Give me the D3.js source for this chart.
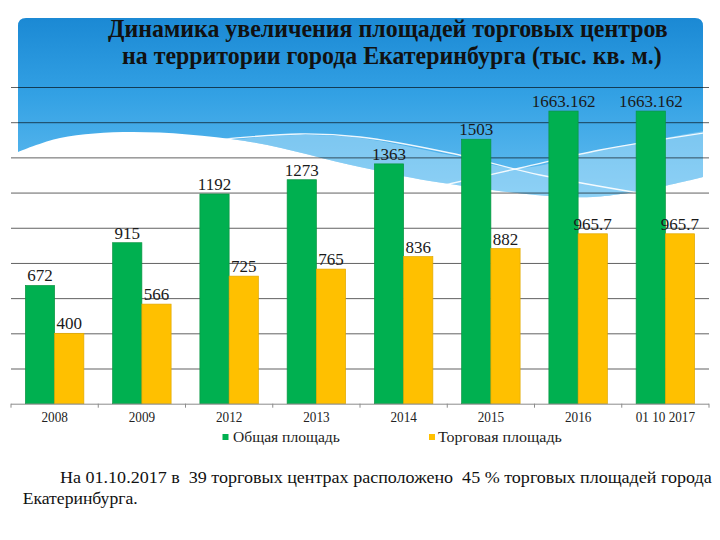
<!DOCTYPE html>
<html><head><meta charset="utf-8">
<script src="https://cdn.jsdelivr.net/npm/d3@7"></script>
<style>body{margin:0;background:#fff} svg{display:block}</style>
</head><body>
<svg id="c" width="720" height="540"></svg>
<script>
const categories = ["2008","2009","2012","2013","2014","2015","2016","01 10 2017"];
const totalArea = [672,915,1192,1273,1363,1503,1663.162,1663.162];
const tradeArea = [400,566,725,765,836,882,965.7,965.7];
const totalLabels = ["672","915","1192","1273","1363","1503","1663.162","1663.162"];
const tradeLabels = ["400","566","725","765","836","882","965.7","965.7"];
const seriesNames = ["Общая площадь","Торговая площадь"];
const seriesColors = ["#00b050","#ffc000"];
const yTicks = d3.range(0, 1801, 200);
const titleLines = ["Динамика увеличения площадей торговых центров","на территории города Екатеринбурга (тыс. кв. м.)"];
const noteLines = ["На 01.10.2017 в  39 торговых центрах расположено  45 % торговых площадей города","Екатеринбурга."];

const SERIF = "'Liberation Serif', 'Times New Roman', 'DejaVu Serif', serif";
const svg = d3.select("#c");
const defs = svg.append("defs");
const grad = defs.append("linearGradient").attr("id","bg").attr("gradientUnits","userSpaceOnUse")
  .attr("x1",0).attr("y1",18).attr("x2",0).attr("y2",190);
grad.append("stop").attr("offset",0).attr("stop-color","#1b89d4");
grad.append("stop").attr("offset",0.45).attr("stop-color","#33a1e4");
grad.append("stop").attr("offset",1).attr("stop-color","#62bdf0");

// decorative banner
const curve = d3.line().curve(d3.curveCatmullRom);
const bottomEdge = [[703,177],[593,197],[443,183],[360,167],[245,141],[133,132],[60,138],[18,152]];
const bannerPath = "M18,26 Q18,18 26,18 L695,18 Q703,18 703,26 L703,177 " + curve(bottomEdge).replace(/^M[^CL]*/, "") + " Z";
defs.append("clipPath").attr("id","bclip").append("path").attr("d", bannerPath);
svg.append("path").attr("d", bannerPath).attr("fill","url(#bg)");
const bandTop = [[225,140],[300,135],[360,138],[450,155],[520,168],[600,150],[710,130]];
const bandG = svg.append("g").attr("clip-path","url(#bclip)");
bandG.append("path").attr("d", curve(bandTop) + " L710,260 L225,260 Z").attr("fill","#bfe6fb").attr("opacity",0.45);
const lineA = [[215,140],[300,134],[360,137],[450,153],[540,175],[645,194]];
const lineB = [[440,186],[520,168],[600,150],[710,132]];
bandG.append("path").attr("d", curve(lineA)).attr("fill","none").attr("stroke","#fff").attr("stroke-width",1.3).attr("opacity",0.9);
bandG.append("path").attr("d", curve(lineB)).attr("fill","none").attr("stroke","#fff").attr("stroke-width",1.3).attr("opacity",0.9);

function fit(sel, x0, yb, w) {
  sel.attr("x",0).attr("y",0);
  const L = sel.node().getComputedTextLength();
  sel.attr("transform", `translate(${x0},${yb}) scale(${w/L},1)`);
}
function txt(parent, s, size, weight) {
  return parent.append("text").text(s).style("font-family", SERIF)
    .style("font-size", size + "px").style("font-weight", weight || "normal").style("white-space","pre");
}

// title
const tPos = [[108,37,560],[122,64,540]];
titleLines.forEach((t,i) => {
  const el = txt(svg, t, 25, "bold").attr("fill","#111");
  fit(el, tPos[i][0], tPos[i][1], tPos[i][2]);
});

// scales
const x = d3.scaleBand().domain(categories).range([11,709]).paddingInner(0.33).paddingOuter(0.165);
const xs = d3.scaleBand().domain([0,1]).range([0, x.bandwidth()]);
const y = d3.scaleLinear().domain([0,1800]).range([403.7,87]);

// gridlines
const grid = svg.append("g").attr("transform","translate(11,0)")
  .call(d3.axisLeft(y).tickValues(yTicks.slice(1)).tickSize(-698).tickFormat(""));
grid.select(".domain").remove();
grid.selectAll("line").attr("stroke","#000").attr("stroke-opacity",0.62).attr("stroke-width",1);

// bars
const data = categories.map((c,i)=>({c, v:[totalArea[i], tradeArea[i]], l:[totalLabels[i], tradeLabels[i]]}));
const groups = svg.append("g").selectAll("g").data(data).join("g").attr("transform", d=>`translate(${x(d.c)},0)`);
[0,1].forEach(s => {
  groups.append("rect")
    .attr("x", xs(s)).attr("width", xs.bandwidth())
    .attr("y", d => y(d.v[s])).attr("height", d => y(0) - y(d.v[s]))
    .attr("fill", seriesColors[s]).attr("stroke", s===0?"#0a9442":"#e0a800").attr("stroke-width",0.7);
  groups.append("text")
    .style("font-family", SERIF).style("font-size","17px")
    .attr("x", xs(s) + xs.bandwidth()/2).attr("y", d => y(d.v[s]) - 4)
    .attr("text-anchor","middle").attr("fill","#1a1a1a")
    .text(d => d.l[s]);
});

// x axis
const xa = svg.append("g").attr("transform",`translate(0,${y(0)})`)
  .call(d3.axisBottom(x).tickSize(0));
xa.select(".domain").attr("stroke","#8c8c8c").attr("d","M11,0.5H709");
xa.selectAll("text").attr("y",18).attr("dy",0).attr("fill","#222")
  .style("font-family",SERIF).style("font-size","15px").attr("transform","scale(0.88,1)");
const gap = (x.step() - x.bandwidth())/2;
const bounds = categories.map(c => x(c) - gap).concat([x(categories[categories.length-1]) + x.bandwidth() + gap]);
xa.selectAll(".bt").data(bounds).join("line").attr("class","bt")
  .attr("x1",d=>d).attr("x2",d=>d).attr("y1",0).attr("y2",4).attr("stroke","#8c8c8c");

// legend
const legPos = [[222.5,233,107],[429,438,124]];
seriesNames.forEach((n,i) => {
  svg.append("rect").attr("x",legPos[i][0]).attr("y",434).attr("width",6).attr("height",6).attr("fill",seriesColors[i]);
  const el = txt(svg, n, 14).attr("fill","#222");
  fit(el, legPos[i][1], 441.7, legPos[i][2]);
});

// footnote
const nPos = [[60,482.7,652],[22.7,504,115]];
noteLines.forEach((t,i) => {
  const el = txt(svg, t, 16).attr("fill","#111");
  fit(el, nPos[i][0], nPos[i][1], nPos[i][2]);
});
</script>
</body></html>
